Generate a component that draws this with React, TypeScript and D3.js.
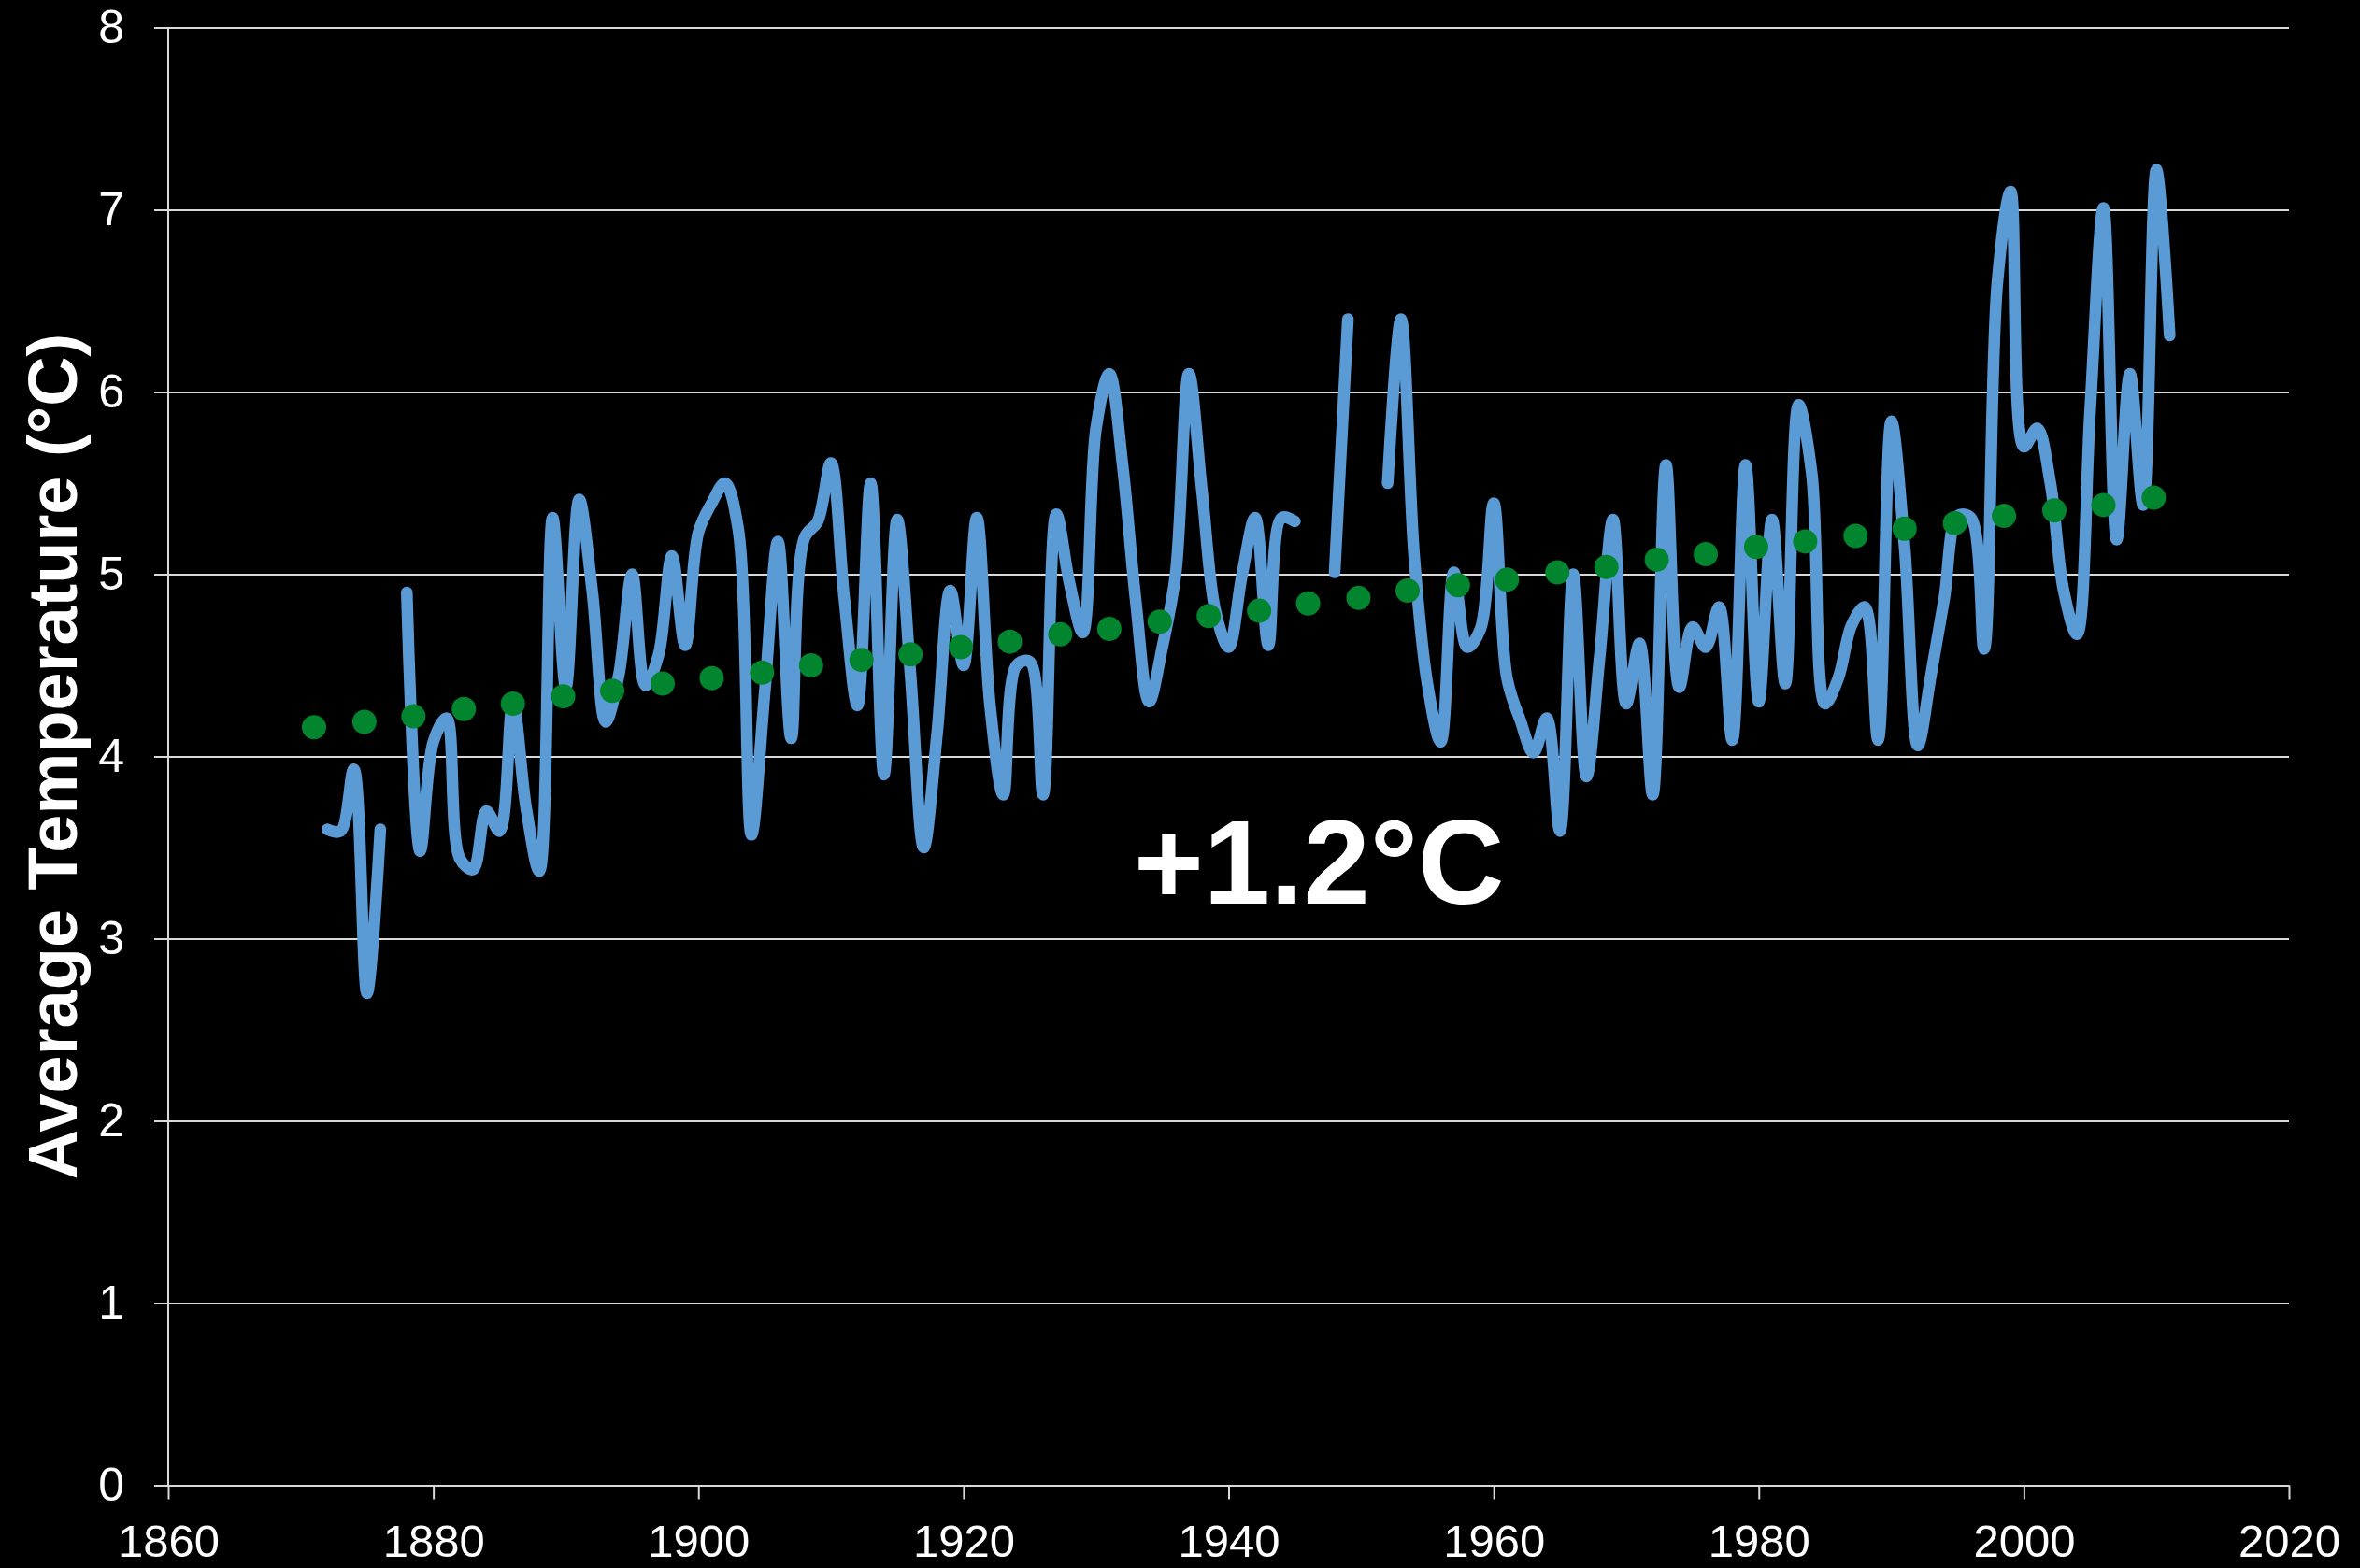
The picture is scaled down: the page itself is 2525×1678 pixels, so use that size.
import React, { useEffect, useRef } from 'react';
import * as d3 from 'd3';

// Annual average temperature, first value is 1872 (null = no data that year)
const firstYear = 1872;
const temps: (number | null)[] = [
  3.60, 3.59, 3.93, 2.70, 3.60, null, 4.90, 3.48, 4.08, 4.21, // 1872-1881
  3.44, 3.38, 3.70, 3.59, 4.29, 3.72, 3.37, 5.31, 4.38, 5.41, // 1882-1891
  4.90, 4.19, 4.45, 5.00, 4.39, 4.56, 5.10, 4.61, 5.23, 5.39, // 1892-1901
  5.50, 5.25, 3.57, 4.35, 5.18, 4.10, 5.20, 5.29, 5.61, 4.87, // 1902-1911
  4.28, 5.50, 3.90, 5.30, 4.45, 3.50, 4.12, 4.91, 4.50, 5.31, // 1912-1921
  4.28, 3.79, 4.50, 4.52, 3.79, 5.33, 4.95, 4.68, 5.80, 6.10, // 1922-1931
  5.60, 4.85, 4.30, 4.60, 5.00, 6.10, 5.45, 4.80, 4.60, 4.99, // 1932-1941
  5.31, 4.61, 5.31, 5.29, null, null, 5.01, 6.40, null, null, // 1942-1951
  5.50, 6.40, 5.10, 4.40, 4.08, 5.01, 4.60, 4.70, 5.39, 4.43, // 1952-1961
  4.20, 4.02, 4.21, 3.59, 5.00, 3.89, 4.55, 5.30, 4.29, 4.62, // 1962-1971
  3.79, 5.60, 4.38, 4.71, 4.60, 4.82, 4.09, 5.60, 4.30, 5.30, // 1972-1981
  4.40, 5.93, 5.55, 4.29, 4.43, 4.72, 4.82, 4.09, 5.84, 5.15, // 1982-1991
  4.06, 4.45, 4.87, 5.32, 5.31, 4.59, 6.60, 7.10, 5.70, 5.80, // 1992-2001
  5.50, 4.91, 4.67, 5.90, 7.01, 5.19, 6.10, 5.38, 7.22, 6.31, // 2002-2011
];

// Linear trend markers (green dots)
const trendYears = [
  1871.0, 1874.8, 1878.5, 1882.3, 1886.0, 1889.8, 1893.5, 1897.3, 1901.0, 1904.8,
  1908.5, 1912.3, 1916.0, 1919.8, 1923.5, 1927.3, 1931.0, 1934.8, 1938.5, 1942.3,
  1946.0, 1949.8, 1953.5, 1957.3, 1961.0, 1964.8, 1968.5, 1972.3, 1976.0, 1979.8,
  1983.5, 1987.3, 1991.0, 1994.8, 1998.5, 2002.3, 2006.0, 2009.8,
];
const trendValues = [
  4.16, 4.19, 4.22, 4.26, 4.29, 4.33, 4.36, 4.40, 4.43, 4.46,
  4.50, 4.53, 4.56, 4.60, 4.63, 4.67, 4.70, 4.74, 4.77, 4.80,
  4.84, 4.87, 4.91, 4.94, 4.97, 5.01, 5.04, 5.08, 5.11, 5.15,
  5.18, 5.21, 5.25, 5.28, 5.32, 5.35, 5.38, 5.42,
];

const xTicks = [1860, 1880, 1900, 1920, 1940, 1960, 1980, 2000, 2020];
const yTicks = [0, 1, 2, 3, 4, 5, 6, 7, 8];
const yTitle = 'Average Temperature (°C)';
const changeLabel = '+1.2°C';

const W = 2525;
const H = 1678;
const FONT = '"Liberation Sans", Arial, Helvetica, sans-serif';

const App: React.FC = () => {
  const ref = useRef<SVGSVGElement | null>(null);

  useEffect(() => {
    if (!ref.current) return;
    const svg = d3.select(ref.current);
    svg.selectAll('*').remove();

    const left = 180;
    const right = 2449;
    const top = 29.5;
    const bottom = 1589.5;

    const x = d3.scaleLinear().domain([1860, 2020]).range([left, right]);
    const y = d3.scaleLinear().domain([0, 8]).range([bottom, top]);

    svg.append('rect').attr('width', W).attr('height', H).attr('fill', '#000');

    // Y axis: gridlines reaching 15px left of the plot, labels at the left
    const yAxis = svg.append('g')
      .attr('transform', `translate(${left - 15},0)`)
      .call(
        d3.axisLeft(y)
          .tickValues(yTicks)
          .tickSizeInner(-(right - left + 15))
          .tickSizeOuter(0)
          .tickPadding(32)
          .tickFormat(d3.format('d'))
      );
    yAxis.select('.domain').remove();
    yAxis.selectAll('line').attr('stroke', '#d9d9d9').attr('stroke-width', 2);
    yAxis.selectAll('text')
      .attr('fill', '#fff')
      .style('font-family', FONT)
      .style('font-size', '50px');

    // X axis
    const xAxis = svg.append('g')
      .attr('transform', `translate(0,${bottom})`)
      .call(
        d3.axisBottom(x)
          .tickValues(xTicks)
          .tickSizeInner(15)
          .tickSizeOuter(0)
          .tickPadding(27)
          .tickFormat(d3.format('d'))
      );
    xAxis.select('.domain').attr('stroke', '#d9d9d9').attr('stroke-width', 2);
    xAxis.selectAll('line').attr('stroke', '#d9d9d9').attr('stroke-width', 2);
    xAxis.selectAll('text')
      .attr('fill', '#fff')
      .style('font-family', FONT)
      .style('font-size', '49px');

    // vertical axis line
    svg.append('line')
      .attr('x1', left).attr('x2', left)
      .attr('y1', top).attr('y2', bottom)
      .attr('stroke', '#d9d9d9')
      .attr('stroke-width', 2);

    // temperature line
    const line = d3.line<number | null>()
      .defined(d => d != null)
      .x((_, i) => x(firstYear + i))
      .y(d => y(d as number))
      .curve(d3.curveCatmullRom.alpha(0.5));

    svg.append('path')
      .datum(temps)
      .attr('d', line)
      .attr('fill', 'none')
      .attr('stroke', '#5b9bd5')
      .attr('stroke-width', 12.5)
      .attr('stroke-linecap', 'round')
      .attr('stroke-linejoin', 'round');

    // trend dots
    svg.append('g')
      .selectAll('circle')
      .data(trendValues)
      .join('circle')
      .attr('cx', (_, i) => x(trendYears[i]))
      .attr('cy', d => y(d))
      .attr('r', 13)
      .attr('fill', '#01852f');

    // axis title
    svg.append('text')
      .attr('transform', `translate(82,${(top + bottom) / 2}) rotate(-90)`)
      .attr('text-anchor', 'middle')
      .attr('fill', '#fff')
      .style('font-family', FONT)
      .style('font-weight', 'bold')
      .style('font-size', '74px')
      .text(yTitle);

    // change annotation
    svg.append('text')
      .attr('x', 1213)
      .attr('y', 967)
      .attr('fill', '#fff')
      .style('font-family', FONT)
      .style('font-weight', 'bold')
      .style('font-size', '128px')
      .text(changeLabel);
  }, []);

  return (
    <div style={{ background: '#000', width: W, height: H }}>
      <style>{'body{margin:0;background:#000;}'}</style>
      <svg ref={ref} width={W} height={H} style={{ display: 'block' }} />
    </div>
  );
};

export default App;
